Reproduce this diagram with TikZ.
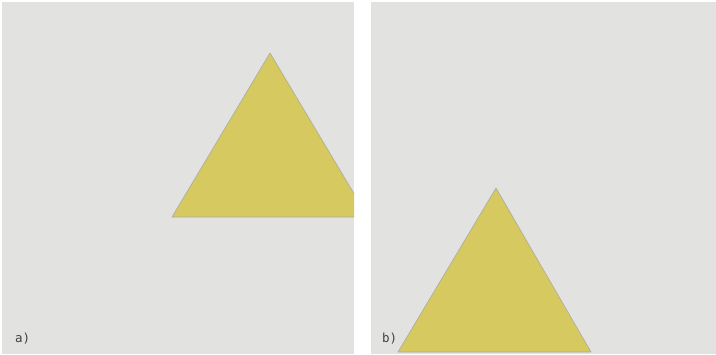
\documentclass[tikz,border=0pt]{standalone}
\usepackage{fontspec}
\setmonofont{DejaVu Sans Mono}
\definecolor{panelgrey}{RGB}{226,226,224}
\definecolor{triyellow}{RGB}{214,201,96}
\definecolor{edgegrey}{RGB}{170,170,160}
\begin{document}
\begin{tikzpicture}[x=1pt,y=-1pt,
  panel/.style={fill=panelgrey,draw=none},
  tri/.style={fill=triyellow,draw=edgegrey,line width=0.6pt,line join=round},
  lbl/.style={font=\ttfamily\fontsize{12.5}{14}\selectfont,text=black!75,inner sep=0pt,anchor=base west}]
\useasboundingbox (0,0) rectangle (716,354);
\fill[white] (0,0) rectangle (716,354);
% panel a
\path[panel] (2,2) rectangle (354,354);
\begin{scope}
  \clip (2,2) rectangle (354,354);
  \path[tri] (270,53) -- (368,217) -- (172,217) -- cycle;
\end{scope}
\node[lbl] (la) at (15,342) {a)};
% panel b
\path[panel] (371,2) rectangle (716,354);
\begin{scope}
  \clip (371,2) rectangle (716,353);
  \path[tri] (496,188) -- (591,352) -- (398,352) -- cycle;
\end{scope}
\node[lbl] (lb) at (382,342) {b)};
\end{tikzpicture}
\end{document}
